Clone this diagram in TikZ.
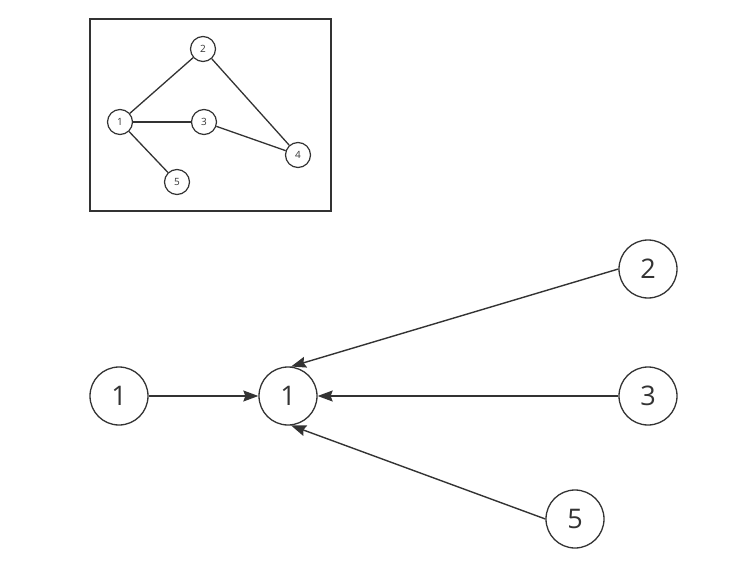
\documentclass[tikz,border=0pt]{standalone}
\usepackage{fontspec}
\setmainfont{Open Sans}
\usetikzlibrary{arrows.meta}

\begin{document}
\begin{tikzpicture}[x=1pt,y=-1pt,
  bigv/.style={circle,draw=black!80,line width=1.3pt,inner sep=0pt,minimum size=58pt,
    text=black!80,font=\fontsize{27}{30}\selectfont},
  smallv/.style={circle,draw=black!80,line width=1.2pt,inner sep=0pt,minimum size=25pt,
    text=black!80,font=\fontsize{10}{12}\selectfont},
  edge/.style={draw=black!80,line width=1.3pt},
  arr/.style={draw=black!80,line width=1.4pt,-{Stealth[length=15pt,width=11pt,inset=2pt]}}]
  \useasboundingbox (0,0) rectangle (740,578);
  %% small graph in the box
  \draw[black!80,line width=1.5pt] (90,19) rectangle (331,211);
  \node[smallv] (s1) at (120,122) {1};
  \node[smallv] (s2) at (203,49) {2};
  \node[smallv] (s3) at (204,122) {3};
  \node[smallv] (s4) at (298,155) {4};
  \node[smallv] (s5) at (177,182) {5};
  \draw[edge] (s1) -- (s2); % 1 - 2
  \draw[edge] (s1) -- (s3); % 1 - 3
  \draw[edge] (s1) -- (s5); % 1 - 5
  \draw[edge] (s2) -- (s4); % 2 - 4
  \draw[edge] (s3) -- (s4); % 3 - 4
  %% big vertices
  \node[bigv] (a) at (119,396) {1};
  \node[bigv] (b) at (288,396) {1};
  \node[bigv] (c) at (648,269) {2};
  \node[bigv] (d) at (648,396) {3};
  \node[bigv] (e) at (575,519) {5};
  %% arrows into 1
  \draw[arr] (a) -- (b);
  \draw[arr] (c.west) -- (b.84);
  \draw[arr] (d) -- (b);
  \draw[arr] (e.west) -- (b.-84);
\end{tikzpicture}
\end{document}
